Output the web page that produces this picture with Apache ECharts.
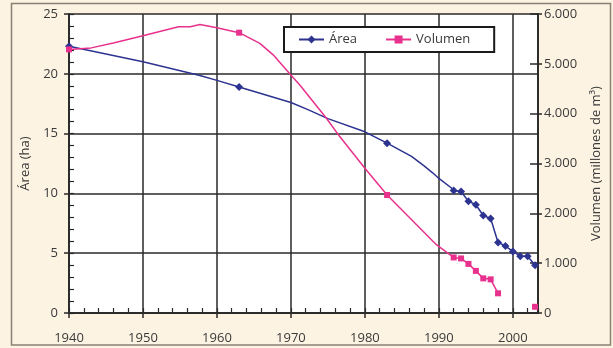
<!DOCTYPE html>
<html>
<head>
<meta charset="utf-8">
<script src="https://cdn.jsdelivr.net/npm/echarts@6/dist/echarts.min.js"></script>
<style>
html,body{margin:0;padding:0;background:#fff;}
#c{width:613px;height:348px;}
</style>
</head>
<body>
<div id="c"></div>
<script>
// Área (ha): year, value, marker shown (1) or curve-only point (0)
const areaYears  = [1940, 1950, 1957.7, 1960, 1963, 1970, 1972.3, 1975, 1980, 1983, 1986.3, 1988, 1989.2, 1990, 1991.7, 1992, 1993, 1994, 1995, 1996, 1997, 1998, 1999, 2000, 2001, 2002, 2003];
const areaValues = [22.3, 21.0, 19.85, 19.45, 18.9, 17.6, 17.0, 16.25, 15.15, 14.2, 13.1, 12.3, 11.7, 11.25, 10.45, 10.25, 10.15, 9.35, 9.05, 8.15, 7.9, 5.9, 5.6, 5.15, 4.75, 4.75, 4.0];
const areaMarks  = [1, 0, 0, 0, 1, 0, 0, 0, 0, 1, 0, 0, 0, 0, 0, 1, 1, 1, 1, 1, 1, 1, 1, 1, 1, 1, 1];

// Volumen (millones de m3)
const volYears  = [1940, 1943, 1946, 1950, 1954.8, 1956.4, 1957.7, 1960, 1963, 1965.8, 1967.6, 1969.9, 1971.2, 1974.8, 1976.6, 1980, 1983, 1989.7, 1992, 1993, 1994, 1995, 1996, 1997, 1998, 2000, 2003];
const volValues = [5290, 5320, 5420, 5565, 5745, 5745, 5790, 5725, 5625, 5410, 5180, 4790, 4575, 3907, 3540, 2905, 2368, 1365, 1115, 1095, 985, 845, 695, 675, 395, null, 125];
const volMarks  = [1, 0, 0, 0, 0, 0, 0, 0, 1, 0, 0, 0, 0, 0, 0, 0, 1, 0, 1, 1, 1, 1, 1, 1, 1, 0, 1];

const xTicks = [1940, 1950, 1960, 1970, 1980, 1990, 2000];
const leftTicks = [0, 5, 10, 15, 20, 25];
const rightTicks = [0, 1000, 2000, 3000, 4000, 5000, 6000];

const FONT = 'Open Sans';
const TXT = '#3a3a3a';
const GRID = '#2a2a2a';
const TICK = '#2a2a2a';
const BLUE = '#2c3390';
const PINK = '#e8318d';
const XMAX = 2003.4;

function build(xs, ys, marks) {
  return xs.map((x, i) => {
    const item = { value: [x, ys[i]] };
    if (!marks[i]) item.symbol = 'none';
    return item;
  });
}

function tickOnlyAxis(base, tickInside, tickLen, tickWidth) {
  return Object.assign({
    type: 'value',
    axisLine: { show: true, lineStyle: { color: GRID, width: 1.5 } },
    axisTick: { show: true, inside: tickInside, length: tickLen, lineStyle: { color: TICK, width: tickWidth } },
    splitLine: { show: false }, axisLabel: { show: false }
  }, base);
}

const chart = echarts.init(document.getElementById('c'), null, { renderer: 'canvas' });
const common = { fontFamily: FONT, fontSize: 13, color: TXT };

chart.setOption({
  backgroundColor: '#fdf3e3',
  animation: false,
  textStyle: { fontFamily: FONT },
  graphic: [{
    type: 'rect', z: 100, silent: true,
    shape: { x: 11.5, y: 3.5, width: 599, height: 341.5 },
    style: { fill: 'none', stroke: '#8a8075', lineWidth: 1.5 }
  }],
  grid: { left: 69, top: 14, width: 469, height: 299, show: true, backgroundColor: '#ffffff', borderWidth: 0 },
  legend: {
    left: 284, top: 27,
    backgroundColor: '#ffffff', borderColor: '#1a1a1a', borderWidth: 2,
    padding: [6, 24, 6, 14], itemGap: 28, itemWidth: 25, itemHeight: 10,
    selectedMode: false,
    textStyle: common,
    data: ['Área', 'Volumen']
  },
  xAxis: [{
    type: 'value', min: xTicks[0], max: XMAX, interval: 10, position: 'bottom',
    axisLine: { show: true, lineStyle: { color: GRID, width: 1.5 } },
    axisTick: { show: true, inside: false, length: 5, lineStyle: { color: TICK, width: 1.5 } },
    splitLine: { show: true, lineStyle: { color: GRID, width: 1.5 } },
    axisLabel: { ...common, margin: 19, formatter: v => (xTicks.includes(v) ? String(v) : ''), showMaxLabel: false }
  },
  tickOnlyAxis({ min: 1940, max: XMAX, interval: 2, position: 'bottom' }, true, 5, 1.2)
  ],
  yAxis: [{
    type: 'value', min: leftTicks[0], max: leftTicks[leftTicks.length - 1], interval: 5, position: 'left',
    name: 'Área (ha)', nameLocation: 'middle', nameGap: 37, nameRotate: 90, nameMoveOverlap: false,
    nameTextStyle: common,
    axisLine: { show: true, lineStyle: { color: GRID, width: 1.5 } },
    axisTick: { show: true, inside: false, length: 5, lineStyle: { color: TICK, width: 1.5 } },
    splitLine: { show: true, lineStyle: { color: GRID, width: 1.5 } },
    axisLabel: { ...common, margin: 11, formatter: v => String(v) }
  },
  {
    type: 'value', min: rightTicks[0], max: rightTicks[rightTicks.length - 1], interval: 1000, position: 'right',
    name: 'Volumen (millones de m³)', nameLocation: 'middle', nameGap: 52, nameRotate: 90, nameMoveOverlap: false,
    nameTextStyle: common,
    axisLine: { show: true, lineStyle: { color: GRID, width: 1.5 } },
    axisTick: { show: true, inside: false, length: 4, lineStyle: { color: TICK, width: 1.5 } },
    splitLine: { show: false },
    axisLabel: { ...common, margin: 6, formatter: v => (v === 0 ? '0' : (v / 1000).toFixed(3)) }
  },
  tickOnlyAxis({ min: 0, max: 6000, interval: 1000, position: 'right' }, true, 8, 1.5),
  tickOnlyAxis({ min: 0, max: 25, interval: 1, position: 'left' }, true, 5, 1.2)
  ],
  series: [{
    name: 'Área', type: 'line', xAxisIndex: 0, yAxisIndex: 0,
    data: build(areaYears, areaValues, areaMarks),
    symbol: 'diamond', symbolSize: 8, showAllSymbol: true,
    lineStyle: { color: BLUE, width: 1.5 }, itemStyle: { color: BLUE },
    z: 3
  }, {
    name: 'Volumen', type: 'line', xAxisIndex: 0, yAxisIndex: 1,
    data: build(volYears, volValues, volMarks),
    connectNulls: false,
    symbol: 'rect', symbolSize: 6, showAllSymbol: true,
    lineStyle: { color: PINK, width: 1.5 }, itemStyle: { color: PINK },
    z: 4
  }]
});
</script>
</body>
</html>
